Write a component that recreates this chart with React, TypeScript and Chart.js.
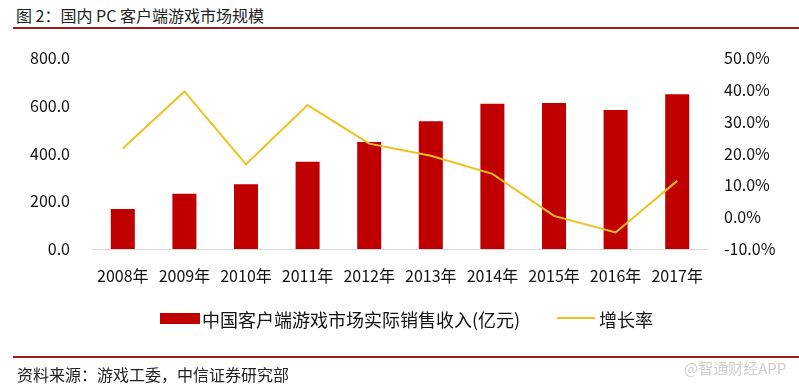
import React, { useEffect, useRef } from "react";
import { Chart, registerables } from "chart.js";

Chart.register(...registerables);

const categories = ["2008年", "2009年", "2010年", "2011年", "2012年", "2013年", "2014年", "2015年", "2016年", "2017年"];
const revenue = [167.6, 231.6, 271.0, 365.7, 448.0, 535.3, 608.9, 611.6, 582.5, 648.6];
const growth = [21.6, 39.5, 16.6, 35.2, 23.1, 19.3, 13.6, 0.4, -4.8, 11.4];
const leftTicks = [0, 200, 400, 600, 800];
const rightTicks = [-10, 0, 10, 20, 30, 40, 50];
const barLabel = "中国客户端游戏市场实际销售收入(亿元)";
const lineLabel = "增长率";
const titleText = "图 2：国内 PC 客户端游戏市场规模";
const sourceText = "资料来源：游戏工委，中信证券研究部";
const watermarkText = "@智通财经APP";

const FONT = "'Noto Sans CJK SC', 'Noto Sans', sans-serif";
const BAR_COLOR = "#c00000";
const LINE_COLOR = "#f0c020";

export default function App() {
  const canvasRef = useRef<HTMLCanvasElement | null>(null);

  useEffect(() => {
    const canvas = canvasRef.current;
    if (!canvas) return;
    const chart = new Chart(canvas, {
      type: "bar",
      data: {
        labels: categories,
        datasets: [
          {
            type: "bar",
            label: barLabel,
            data: revenue,
            backgroundColor: BAR_COLOR,
            borderWidth: 0,
            yAxisID: "y",
            order: 1,
            barPercentage: 0.39,
            categoryPercentage: 1,
          },
          {
            type: "line",
            label: lineLabel,
            data: growth,
            borderColor: LINE_COLOR,
            backgroundColor: LINE_COLOR,
            borderWidth: 2,
            pointRadius: 0,
            tension: 0,
            yAxisID: "y1",
            order: 0,
          },
        ],
      },
      options: {
        animation: false,
        responsive: false,
        maintainAspectRatio: false,
        layout: { padding: { top: 58, bottom: 0, left: 0, right: 0 } },
        plugins: {
          legend: { display: false },
          tooltip: { enabled: false },
          title: { display: false },
        },
        scales: {
          x: {
            grid: { display: false, drawTicks: false },
            border: { display: true, color: "#d9d9d9", width: 1 },
            ticks: {
              color: "#111",
              font: { family: FONT, size: 16 },
              padding: 17,
              maxRotation: 0,
              autoSkip: false,
            },
            afterFit: (scale: any) => {
              scale.height = 387 - 249;
            },
          },
          y: {
            position: "left",
            min: 0,
            max: 800,
            afterBuildTicks: (scale: any) => {
              scale.ticks = leftTicks.map((v) => ({ value: v }));
            },
            grid: { display: false, drawTicks: false },
            border: { display: false },
            ticks: {
              color: "#111",
              font: { family: FONT, size: 16 },
              padding: 22,
              callback: (v: any) => Number(v).toFixed(1),
            },
            afterFit: (scale: any) => {
              scale.width = 92;
            },
          },
          y1: {
            position: "right",
            min: -10,
            max: 50,
            afterBuildTicks: (scale: any) => {
              scale.ticks = rightTicks.map((v) => ({ value: v }));
            },
            grid: { display: false, drawTicks: false },
            border: { display: false },
            ticks: {
              color: "#111",
              font: { family: FONT, size: 16 },
              padding: 16,
              callback: (v: any) => Number(v).toFixed(1) + "%",
            },
            afterFit: (scale: any) => {
              scale.width = 799 - 708;
            },
          },
        },
      },
    });
    return () => chart.destroy();
  }, []);

  const textBase: React.CSSProperties = {
    position: "absolute",
    fontFamily: FONT,
    whiteSpace: "nowrap",
    lineHeight: 1,
  };

  return (
    <div style={{ position: "absolute", left: 0, top: 0, width: 799, height: 387, background: "#fff", overflow: "hidden" }}>
      <div style={{ ...textBase, left: 16, top: 7, fontSize: 16, color: "#222" }}>{titleText}</div>
      <div style={{ position: "absolute", left: 13, top: 27, width: 786, height: 2, background: "#9b1c1c" }} />
      <canvas ref={canvasRef} width={799} height={387} style={{ position: "absolute", left: 0, top: 0, width: 799, height: 387 }} />
      <div style={{ position: "absolute", left: 160, top: 313, width: 40, height: 11, background: BAR_COLOR }} />
      <div style={{ ...textBase, left: 202, top: 310, fontSize: 18, color: "#111" }}>{barLabel}</div>
      <div style={{ position: "absolute", left: 557, top: 317, width: 38, height: 2, background: LINE_COLOR }} />
      <div style={{ ...textBase, left: 599, top: 310, fontSize: 18, color: "#111" }}>{lineLabel}</div>
      <div style={{ position: "absolute", left: 13, top: 356, width: 786, height: 2, background: "#9b1c1c" }} />
      <div style={{ ...textBase, left: 17, top: 366, fontSize: 16, color: "#222" }}>{sourceText}</div>
      <div style={{ ...textBase, left: 684, top: 360, fontSize: 15, color: "#cfcfcf" }}>{watermarkText}</div>
    </div>
  );
}
